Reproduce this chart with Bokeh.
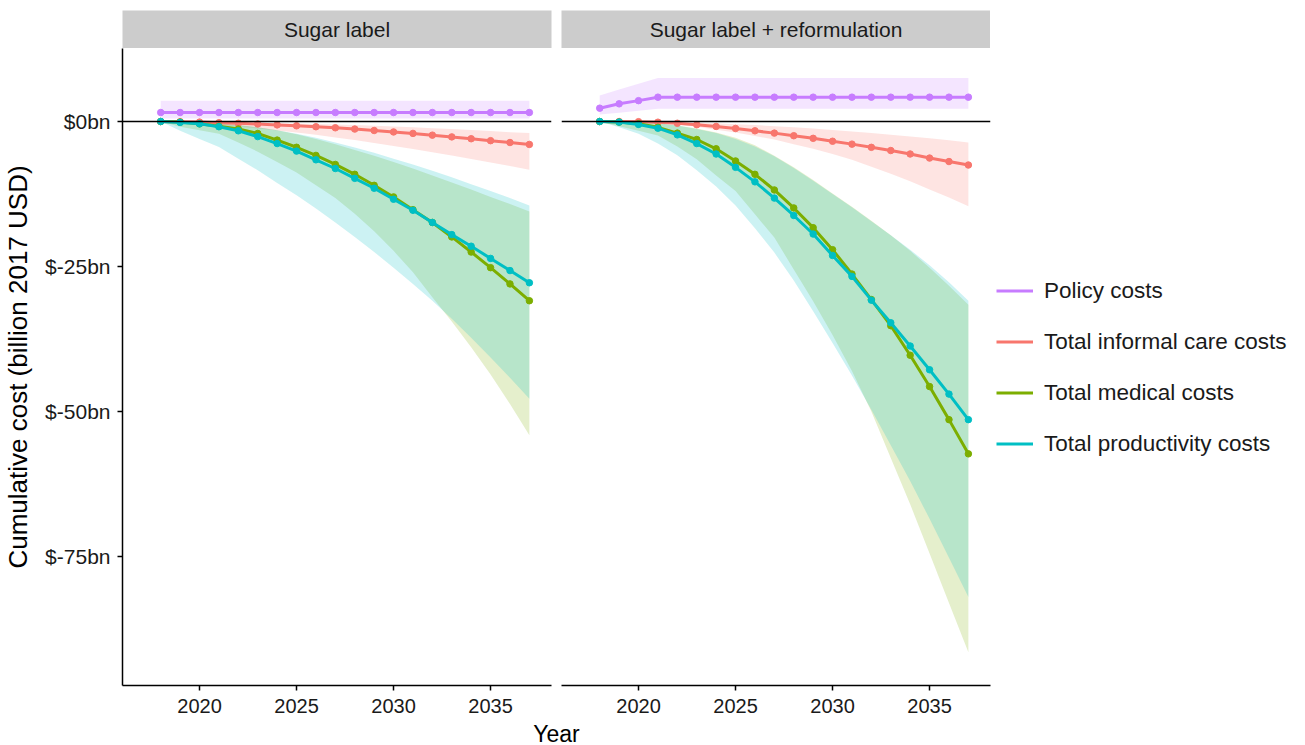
from bokeh.plotting import figure
from bokeh.models import Range1d, Span, Legend, LegendItem, Div, FixedTicker
from bokeh.layouts import row, column
from bokeh.embed import file_html
from bokeh.resources import INLINE
from bokeh.core.properties import value

FONT = "Liberation Sans"

years = [2018, 2019, 2020, 2021, 2022, 2023, 2024, 2025, 2026, 2027,
         2028, 2029, 2030, 2031, 2032, 2033, 2034, 2035, 2036, 2037]

panel_titles = ["Sugar label", "Sugar label + reformulation"]
series_names = ["Policy costs", "Total informal care costs",
                "Total medical costs", "Total productivity costs"]
series_colors = ["#C77CFF", "#F8766D", "#7CAE00", "#00BFC4"]

x_ticks = [2020, 2025, 2030, 2035]
y_ticks = [0, -25, -50, -75]
y_tick_labels = ["$0bn", "$-25bn", "$-50bn", "$-75bn"]

# ---------------- Panel 1: Sugar label ----------------
pol1 = [1.55, 1.55, 1.55, 1.55, 1.55, 1.55, 1.55, 1.55, 1.55, 1.55,
        1.55, 1.55, 1.55, 1.55, 1.55, 1.55, 1.55, 1.55, 1.55, 1.55]
pol1_lo = [0.5, 0.5, 0.5, 0.5, 0.5, 0.5, 0.5, 0.5, 0.5, 0.5,
           0.5, 0.5, 0.5, 0.5, 0.5, 0.5, 0.5, 0.5, 0.5, 0.5]
pol1_hi = [3.6, 3.6, 3.6, 3.6, 3.6, 3.6, 3.6, 3.6, 3.6, 3.6,
           3.6, 3.6, 3.6, 3.6, 3.6, 3.6, 3.6, 3.6, 3.6, 3.6]
inf1 = [0, -0.03, -0.1, -0.2, -0.3, -0.42, -0.58, -0.74, -0.9, -1.08,
        -1.3, -1.55, -1.8, -2.05, -2.35, -2.65, -2.97, -3.3, -3.62, -3.95]
inf1_lo = [0, -0.15, -0.35, -0.6, -0.9, -1.2, -1.55, -1.9, -2.3, -2.75,
           -3.2, -3.7, -4.2, -4.75, -5.3, -5.85, -6.45, -7.05, -7.65, -8.3]
inf1_hi = [0, 0, -0.05, -0.1, -0.15, -0.2, -0.28, -0.35, -0.43, -0.52,
           -0.62, -0.74, -0.87, -1.0, -1.15, -1.3, -1.47, -1.65, -1.83, -2.0]
med1 = [0, -0.1, -0.4, -0.82, -1.3, -2.06, -3.2, -4.44, -5.84, -7.4,
        -9.1, -11.0, -13.0, -15.2, -17.4, -19.9, -22.5, -25.2, -28.0, -30.9]
med1_lo = [0, -0.9, -1.5, -2.1, -3.6, -5.2, -7.0, -8.8, -11.0, -13.2,
           -15.9, -18.9, -22.3, -26.0, -30.3, -34.5, -38.9, -43.6, -48.7, -54.1]
med1_hi = [0, 0, -0.1, -0.3, -0.6, -1.0, -1.5, -2.2, -3.0, -3.9,
           -4.9, -5.9, -7.0, -8.1, -9.3, -10.5, -11.7, -13.0, -14.2, -15.5]
prod1 = [0, -0.15, -0.4, -0.9, -1.6, -2.6, -3.8, -5.1, -6.6, -8.1,
         -9.8, -11.5, -13.4, -15.3, -17.4, -19.5, -21.5, -23.6, -25.7, -27.8]
prod1_lo = [0, -1.6, -3.0, -4.4, -6.4, -8.4, -10.6, -12.7, -15.0, -17.4,
            -19.9, -22.5, -25.2, -28.0, -30.9, -34.0, -37.3, -40.7, -44.2, -47.8]
prod1_hi = [0, 0, -0.1, -0.3, -0.6, -1.0, -1.5, -2.1, -2.8, -3.6,
            -4.5, -5.4, -6.4, -7.4, -8.5, -9.6, -10.8, -12.0, -13.2, -14.5]

# ---------------- Panel 2: Sugar label + reformulation ----------------
pol2 = [2.3, 3.05, 3.6, 4.2, 4.2, 4.2, 4.2, 4.2, 4.2, 4.2,
        4.2, 4.2, 4.2, 4.2, 4.2, 4.2, 4.2, 4.2, 4.2, 4.2]
pol2_lo = [1.2, 1.5, 1.85, 2.2, 2.2, 2.2, 2.2, 2.2, 2.2, 2.2,
           2.2, 2.2, 2.2, 2.2, 2.2, 2.2, 2.2, 2.2, 2.2, 2.2]
pol2_hi = [4.5, 5.5, 6.5, 7.5, 7.5, 7.5, 7.5, 7.5, 7.5, 7.5,
           7.5, 7.5, 7.5, 7.5, 7.5, 7.5, 7.5, 7.5, 7.5, 7.5]
inf2 = [0, 0, -0.03, -0.12, -0.3, -0.55, -0.85, -1.2, -1.6, -2.0,
        -2.45, -2.9, -3.4, -3.9, -4.45, -5.0, -5.6, -6.3, -6.9, -7.5]
inf2_lo = [0, 0, -0.1, -0.3, -0.5, -0.9, -1.4, -1.9, -2.5, -3.1,
           -3.9, -4.7, -5.6, -6.6, -7.8, -9.0, -10.3, -11.7, -13.1, -14.6]
inf2_hi = [0, 0, 0, 0, -0.1, -0.2, -0.3, -0.45, -0.6, -0.8,
           -1.0, -1.2, -1.45, -1.7, -2.0, -2.3, -2.6, -2.9, -3.25, -3.6]
med2 = [0, -0.1, -0.4, -1.0, -2.0, -3.1, -4.7, -6.8, -9.1, -11.8,
        -14.9, -18.3, -22.1, -26.3, -30.7, -35.2, -40.3, -45.7, -51.4, -57.3]
med2_lo = [0, -0.8, -1.6, -2.4, -4.3, -6.5, -9.3, -12.0, -16.0, -20.0,
           -25.5, -31.0, -36.8, -43.0, -50.0, -58.0, -66.0, -74.5, -83.0, -91.5]
med2_hi = [0, 0, -0.1, -0.3, -0.7, -1.2, -1.9, -2.8, -4.1, -5.9,
           -7.9, -10.1, -12.4, -14.7, -17.1, -19.6, -22.3, -25.2, -28.3, -31.6]
prod2 = [0, -0.1, -0.5, -1.15, -2.3, -3.8, -5.6, -7.9, -10.4, -13.2,
         -16.2, -19.4, -23.1, -26.7, -30.8, -34.7, -38.7, -42.8, -47.0, -51.4]
prod2_lo = [0, -1.0, -2.1, -3.8, -5.8, -8.4, -11.2, -14.5, -18.4, -22.6,
            -27.4, -32.7, -38.2, -43.8, -49.7, -55.8, -62.0, -68.5, -75.2, -82.0]
prod2_hi = [0, 0, -0.1, -0.3, -0.7, -1.3, -2.0, -3.0, -4.3, -6.0,
            -8.0, -10.2, -12.5, -14.8, -17.2, -19.6, -22.1, -24.8, -27.7, -30.9]

panels = [
    [(pol1, pol1_lo, pol1_hi), (inf1, inf1_lo, inf1_hi),
     (med1, med1_lo, med1_hi), (prod1, prod1_lo, prod1_hi)],
    [(pol2, pol2_lo, pol2_hi), (inf2, inf2_lo, inf2_hi),
     (med2, med2_lo, med2_hi), (prod2, prod2_lo, prod2_hi)],
]

x_range = Range1d(2016.03, 2038.14)
y_range = Range1d(-97.24, 12.59)

FRAME_W = 429
FRAME_H = 637


def strip(title, left, right):
    s = figure(frame_width=FRAME_W, frame_height=38, x_range=(0, 1), y_range=(0, 1),
               toolbar_location=None, output_backend="svg",
               min_border_left=left, min_border_right=right,
               min_border_top=10, min_border_bottom=0,
               x_axis_location=None, y_axis_location=None)
    s.background_fill_color = "#CCCCCC"
    s.border_fill_color = "white"
    s.outline_line_color = None
    s.grid.visible = False
    s.text(x=[0.5], y=[0.5], text=[title], text_align="center", text_baseline="middle",
           text_font=value(FONT), text_font_size="21px", text_color="#1a1a1a")
    return s


def panel(data, left, right, with_yaxis):
    p = figure(frame_width=FRAME_W, frame_height=FRAME_H, x_range=x_range, y_range=y_range,
               toolbar_location=None, output_backend="svg",
               min_border_left=left, min_border_right=right,
               min_border_top=0, min_border_bottom=32,
               y_axis_location="left" if with_yaxis else None)
    p.outline_line_color = None
    p.grid.visible = False
    p.background_fill_color = "white"
    p.border_fill_color = "white"

    p.xaxis.ticker = FixedTicker(ticks=x_ticks)
    p.xaxis.minor_tick_line_color = None
    p.xaxis.major_tick_out = 5
    p.xaxis.major_tick_in = 0
    p.xaxis.axis_line_width = 1.5
    p.xaxis.major_tick_line_width = 1.5
    p.xaxis.major_label_text_font = FONT
    p.xaxis.major_label_text_font_size = "20px"
    p.xaxis.major_label_text_color = "#1a1a1a"
    p.xaxis.major_label_standoff = 8

    if with_yaxis:
        p.yaxis.ticker = FixedTicker(ticks=y_ticks)
        p.yaxis.major_label_overrides = {t: l for t, l in zip(y_ticks, y_tick_labels)}
        p.yaxis.minor_tick_line_color = None
        p.yaxis.major_tick_out = 5
        p.yaxis.major_tick_in = 0
        p.yaxis.axis_line_width = 1.5
        p.yaxis.major_tick_line_width = 1.5
        p.yaxis.major_label_text_font = FONT
        p.yaxis.major_label_text_font_size = "21px"
        p.yaxis.major_label_text_color = "#1a1a1a"
        p.yaxis.major_label_standoff = 7
        p.yaxis.axis_label = "Cumulative cost (billion 2017 USD)"
        p.yaxis.axis_label_text_font = FONT
        p.yaxis.axis_label_text_font_size = "26px"
        p.yaxis.axis_label_text_font_style = "normal"
        p.yaxis.axis_label_text_color = "black"
        p.yaxis.axis_label_standoff = 9

    p.add_layout(Span(location=0, dimension="width", line_color="black", line_width=1.3))

    for (mid, lo, hi), col in zip(data, series_colors):
        p.varea(x=years, y1=lo, y2=hi, fill_color=col, fill_alpha=0.2)
    lines = []
    for (mid, lo, hi), col in zip(data, series_colors):
        r = p.line(x=years, y=mid, line_color=col, line_width=3)
        p.scatter(x=years, y=mid, size=6.5, fill_color=col, line_color=col)
        lines.append(r)
    return p, lines


s1 = strip(panel_titles[0], 118, 10)
f1, _ = panel(panels[0], 118, 10, True)
s2 = strip(panel_titles[1], 0, 0)
f2, lines2 = panel(panels[1], 0, 0, False)

legend = Legend(items=[LegendItem(label=n, renderers=[r]) for n, r in zip(series_names, lines2)],
                location="center_left")
legend.label_text_font = FONT
legend.label_text_font_size = "22.5px"
legend.label_text_color = "#1a1a1a"
legend.glyph_width = 37
legend.glyph_height = 20
legend.label_height = 20
legend.label_standoff = 11
legend.spacing = 25
legend.padding = 8
legend.margin = 6
legend.border_line_color = None
legend.background_fill_alpha = 0
f2.add_layout(legend, "right")

year_div = Div(text="Year", width=1103, height=24,
               styles={"text-align": "center", "font-family": FONT, "font-size": "23px",
                       "line-height": "24px", "color": "black"})

layout = column(row(column(s1, f1), column(s2, f2)), year_div)

open("out.html", "w").write(file_html(layout, INLINE))
